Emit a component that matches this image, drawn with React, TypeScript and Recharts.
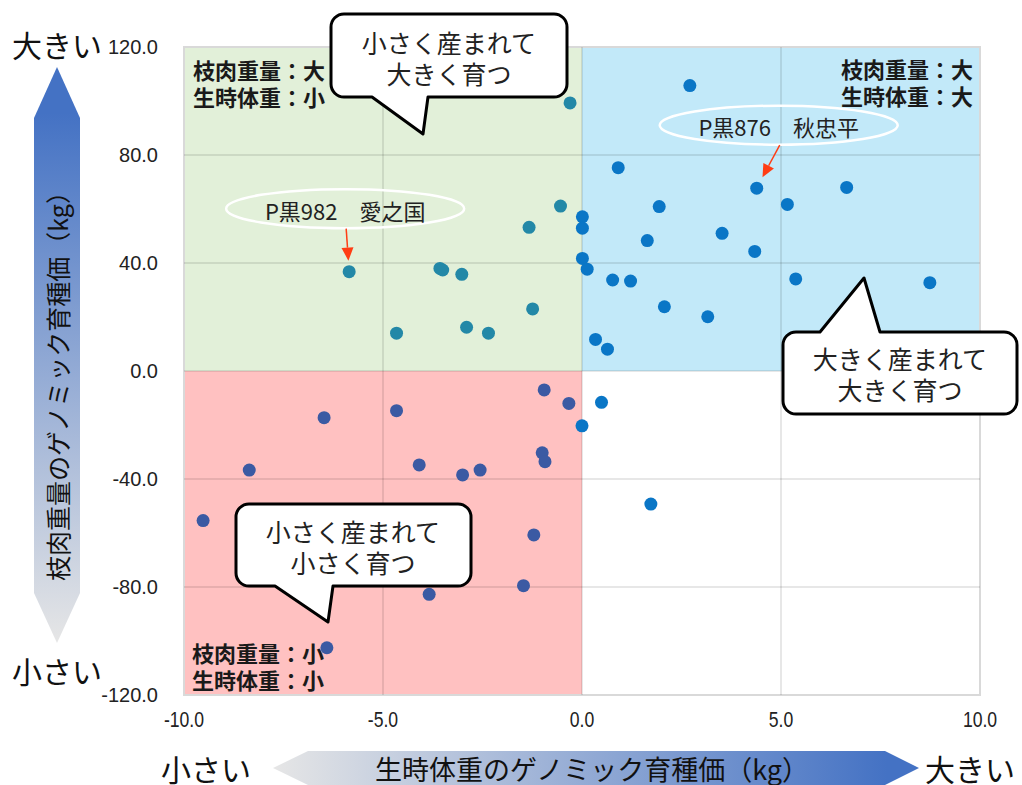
import React from 'react';
import { ScatterChart, Scatter, XAxis, YAxis, ReferenceArea, ReferenceLine, ReferenceDot } from 'recharts';

const xTicks = [-10, -5, 0, 5, 10];
const yTicks = [-120, -80, -40, 0, 40, 80, 120];
const gridX = [-5, 0, 5];
const gridY = [-80, -40, 0, 40, 80];

// 生時体重 (x) / 枝肉重量 (y) のゲノミック育種価, 象限ごと
const ulBirth = [-0.3, -0.54, -1.33, -5.85, -3.57, -3.5, -3.02, -1.24, -4.66, -2.9, -2.35];
const ulCarcass = [99.3, 61.1, 53.2, 36.8, 38.0, 37.4, 35.8, 23.0, 14.0, 16.2, 14.0];

const urBirth = [2.71, 0.91, 4.39, 6.65, 5.16, 1.94, 0.01, 0.01, 1.64, 3.52, 4.34, 0.01, 0.13, 0.77, 1.22, 5.37, 8.74, 2.07, 3.16, 0.34, 0.64];
const urCarcass = [105.7, 75.3, 67.7, 68.0, 61.7, 60.9, 57.1, 52.9, 48.3, 51.0, 44.3, 41.7, 37.7, 33.7, 33.3, 34.1, 32.7, 23.8, 20.1, 11.7, 8.1];

const llBirth = [-0.95, -0.33, -6.48, -4.66, -8.36, -4.09, -3.0, -2.56, -1.0, -0.93, -9.52, -1.21, -3.84, -1.47, -6.41];
const llCarcass = [-7.0, -12.0, -17.3, -14.7, -36.7, -34.8, -38.5, -36.7, -30.3, -33.6, -55.4, -60.7, -82.7, -79.5, -102.5];

const lrBirth = [0.49, 0.0, 1.73];
const lrCarcass = [-11.6, -20.3, -49.3];

const bulls = [
  { name: 'P黒982　愛之国', x: -5.85, y: 36.8 },
  { name: 'P黒876　秋忠平', x: 4.39, y: 67.7 },
];

const zip = (xs: number[], ys: number[]) => xs.map((x, i) => ({ x, y: ys[i] }));

const JP = "'Noto Sans CJK JP', 'Noto Sans', sans-serif";

const dot = (color: string) => (props: any) =>
  <circle cx={props.cx} cy={props.cy} r={6.5} fill={color} />;

// 横軸の目盛りは縦長の細い字
const NarrowTick = (props: any) => {
  const { x, y, payload } = props;
  return (
    <text transform={`translate(${x},${y + 9}) scale(0.8,1)`} textAnchor="middle" dominantBaseline="central"
      fontSize={22} fill="#222" fontFamily="'Liberation Sans', Arial, sans-serif">
      {Number(payload.value).toFixed(1)}
    </text>
  );
};

// 吹き出し (角丸四角 + しっぽ)
function bubblePath(x: number, y: number, w: number, h: number, r: number,
  side: 'top' | 'bottom', a: number, b: number, tx: number, ty: number) {
  let d = `M${x + r},${y}`;
  if (side === 'top') d += ` L${a},${y} L${tx},${ty} L${b},${y}`;
  d += ` L${x + w - r},${y} A${r},${r} 0 0 1 ${x + w},${y + r}`;
  d += ` L${x + w},${y + h - r} A${r},${r} 0 0 1 ${x + w - r},${y + h}`;
  if (side === 'bottom') d += ` L${b},${y + h} L${tx},${ty} L${a},${y + h}`;
  d += ` L${x + r},${y + h} A${r},${r} 0 0 1 ${x},${y + h - r}`;
  d += ` L${x},${y + r} A${r},${r} 0 0 1 ${x + r},${y} Z`;
  return d;
}

const Bubble = ({ d, cx, y1, lines }: { d: string; cx: number; y1: number; lines: string[] }) => (
  <g>
    <path d={d} fill="#fff" stroke="#000" strokeWidth={3} strokeLinejoin="round" />
    {lines.map((t, i) => (
      <text key={i} x={cx} y={y1 + i * 31} textAnchor="middle" dominantBaseline="central"
        fontSize={25} fontFamily={JP} fill="#222">{t}</text>
    ))}
  </g>
);

const RedArrow = ({ x1, y1, x2, y2 }: { x1: number; y1: number; x2: number; y2: number }) => {
  const dx = x2 - x1, dy = y2 - y1;
  const len = Math.sqrt(dx * dx + dy * dy);
  const ux = dx / len, uy = dy / len;
  const hl = 13, hw = 6;
  const bx = x2 - ux * hl, by = y2 - uy * hl;
  return (
    <g>
      <line x1={x1} y1={y1} x2={bx} y2={by} stroke="#ff3d14" strokeWidth={1.5} />
      <polygon points={`${x2},${y2} ${bx - uy * hw},${by + ux * hw} ${bx + uy * hw},${by - ux * hw}`} fill="#ff3d14" />
    </g>
  );
};

// 個体名の楕円ラベルと矢印 (点の位置に合わせる)
const bullLabel = (name: string, ox: number, ax: number) => (props: any) => {
  const { cx, cy } = props;
  return (
    <g>
      <ellipse cx={cx + ox} cy={cy - 63} rx={119} ry={19.5} fill="none" stroke="#fff" strokeWidth={2.5} />
      <text x={cx + ox} y={cy - 62} textAnchor="middle" dominantBaseline="central"
        fontSize={22} fontFamily={JP} fill="#222">{name}</text>
      <RedArrow x1={cx + ax} y1={cy - 43} x2={cx + ax * 0.25} y2={cy - 11} />
    </g>
  );
};

const QuadText = ({ x, y, lines, anchor }: { x: number; y: number; lines: string[]; anchor: 'start' | 'end' }) => (
  <g>
    {lines.map((t, i) => (
      <text key={i} x={x} y={y + i * 27} textAnchor={anchor} dominantBaseline="central"
        fontSize={22} fontWeight="bold" fontFamily={JP} fill="#1a1a1a">{t}</text>
    ))}
  </g>
);

export default function App() {
  return (
    <div style={{ position: 'absolute', left: 0, top: 0, width: 1022, height: 785, background: '#fff', overflow: 'hidden' }}>
      <ScatterChart width={1022} height={785} margin={{ top: 47, right: 42, bottom: 60, left: 124 }}>
        <XAxis type="number" dataKey="x" domain={[-10, 10]} ticks={xTicks} axisLine={false} tickLine={false}
          tickMargin={9} height={30} tick={<NarrowTick />} />
        <YAxis type="number" dataKey="y" domain={[-120, 120]} ticks={yTicks} axisLine={false} tickLine={false}
          tickMargin={20} width={60} tickFormatter={(v: number) => v.toFixed(1)}
          tick={{ fontSize: 20, fill: '#222', fontFamily: "'Liberation Sans', Arial, sans-serif" }} />
        <ReferenceArea x1={-10} x2={0} y1={0} y2={120} fill="#e2f0d9" fillOpacity={1} stroke="none" />
        <ReferenceArea x1={0} x2={10} y1={0} y2={120} fill="#c2e9f9" fillOpacity={1} stroke="none" />
        <ReferenceArea x1={-10} x2={0} y1={-120} y2={0} fill="#ffc1c1" fillOpacity={1} stroke="none" />
        {gridX.map(v => <ReferenceLine key={'x' + v} x={v} stroke="rgba(0,0,0,0.13)" strokeWidth={1.5} />)}
        {gridY.map(v => <ReferenceLine key={'y' + v} y={v} stroke="rgba(0,0,0,0.13)" strokeWidth={1.5} />)}
        <ReferenceArea x1={-10} x2={10} y1={-120} y2={120} fill="none" stroke="#d9d9d9" strokeWidth={2} />
        <Scatter data={zip(ulBirth, ulCarcass)} shape={dot('#2388a7')} isAnimationActive={false} />
        <Scatter data={zip(urBirth, urCarcass)} shape={dot('#0a76c6')} isAnimationActive={false} />
        <Scatter data={zip(llBirth, llCarcass)} shape={dot('#3b5aa3')} isAnimationActive={false} />
        <Scatter data={zip(lrBirth, lrCarcass)} shape={dot('#0a76c6')} isAnimationActive={false} />
        <ReferenceDot x={bulls[0].x} y={bulls[0].y} shape={bullLabel(bulls[0].name, -4, -3)} />
        <ReferenceDot x={bulls[1].x} y={bulls[1].y} shape={bullLabel(bulls[1].name, 22, 23)} />
      </ScatterChart>

      <svg width={1022} height={785} style={{ position: 'absolute', left: 0, top: 0, pointerEvents: 'none' }}>
        <defs>
          <linearGradient id="vGrad2" x1="0" y1="0" x2="0" y2="1">
            <stop offset="0.08" stopColor="#4472c4" />
            <stop offset="1" stopColor="#e6e6e6" />
          </linearGradient>
          <linearGradient id="hGrad2" x1="0" y1="0" x2="1" y2="0">
            <stop offset="0" stopColor="#e6e6e6" />
            <stop offset="0.95" stopColor="#4472c4" />
          </linearGradient>
        </defs>
        {/* 縦軸の矢印 */}
        <polygon points="57,67 80,118 80,593 57,643 34,593 34,118" fill="url(#vGrad2)" />
        <text x={57} y={380} transform="rotate(-90 57 380)" textAnchor="middle" dominantBaseline="central"
          fontSize={25} fontFamily={JP} fill="#111">枝肉重量のゲノミック育種価（kg）</text>
        <text x={12} y={44} dominantBaseline="central" fontSize={30} fontFamily={JP} fill="#111">大きい</text>
        <text x={12} y={670} dominantBaseline="central" fontSize={30} fontFamily={JP} fill="#111">小さい</text>
        {/* 横軸の矢印 */}
        <polygon points="273,768 308,751 885,751 919,768 885,785 308,785" fill="url(#hGrad2)" />
        <text x={592} y={768} textAnchor="middle" dominantBaseline="central"
          fontSize={27} fontFamily={JP} fill="#111">生時体重のゲノミック育種価（kg）</text>
        <text x={161} y={768} dominantBaseline="central" fontSize={30} fontFamily={JP} fill="#111">小さい</text>
        <text x={925} y={768} dominantBaseline="central" fontSize={30} fontFamily={JP} fill="#111">大きい</text>

        <QuadText x={193} y={69} anchor="start" lines={['枝肉重量：大', '生時体重：小']} />
        <QuadText x={973} y={68} anchor="end" lines={['枝肉重量：大', '生時体重：大']} />
        <QuadText x={192} y={652} anchor="start" lines={['枝肉重量：小', '生時体重：小']} />

        <Bubble d={bubblePath(331, 14, 236, 83, 13, 'bottom', 372, 428, 423, 134)} cx={449} y1={42}
          lines={['小さく産まれて', '大きく育つ']} />
        <Bubble d={bubblePath(783, 332, 234, 82, 13, 'top', 820, 880, 864, 278)} cx={900} y1={358}
          lines={['大きく産まれて', '大きく育つ']} />
        <Bubble d={bubblePath(236, 504, 235, 82, 13, 'bottom', 275, 333, 328, 622)} cx={353} y1={531}
          lines={['小さく産まれて', '小さく育つ']} />
      </svg>
    </div>
  );
}
